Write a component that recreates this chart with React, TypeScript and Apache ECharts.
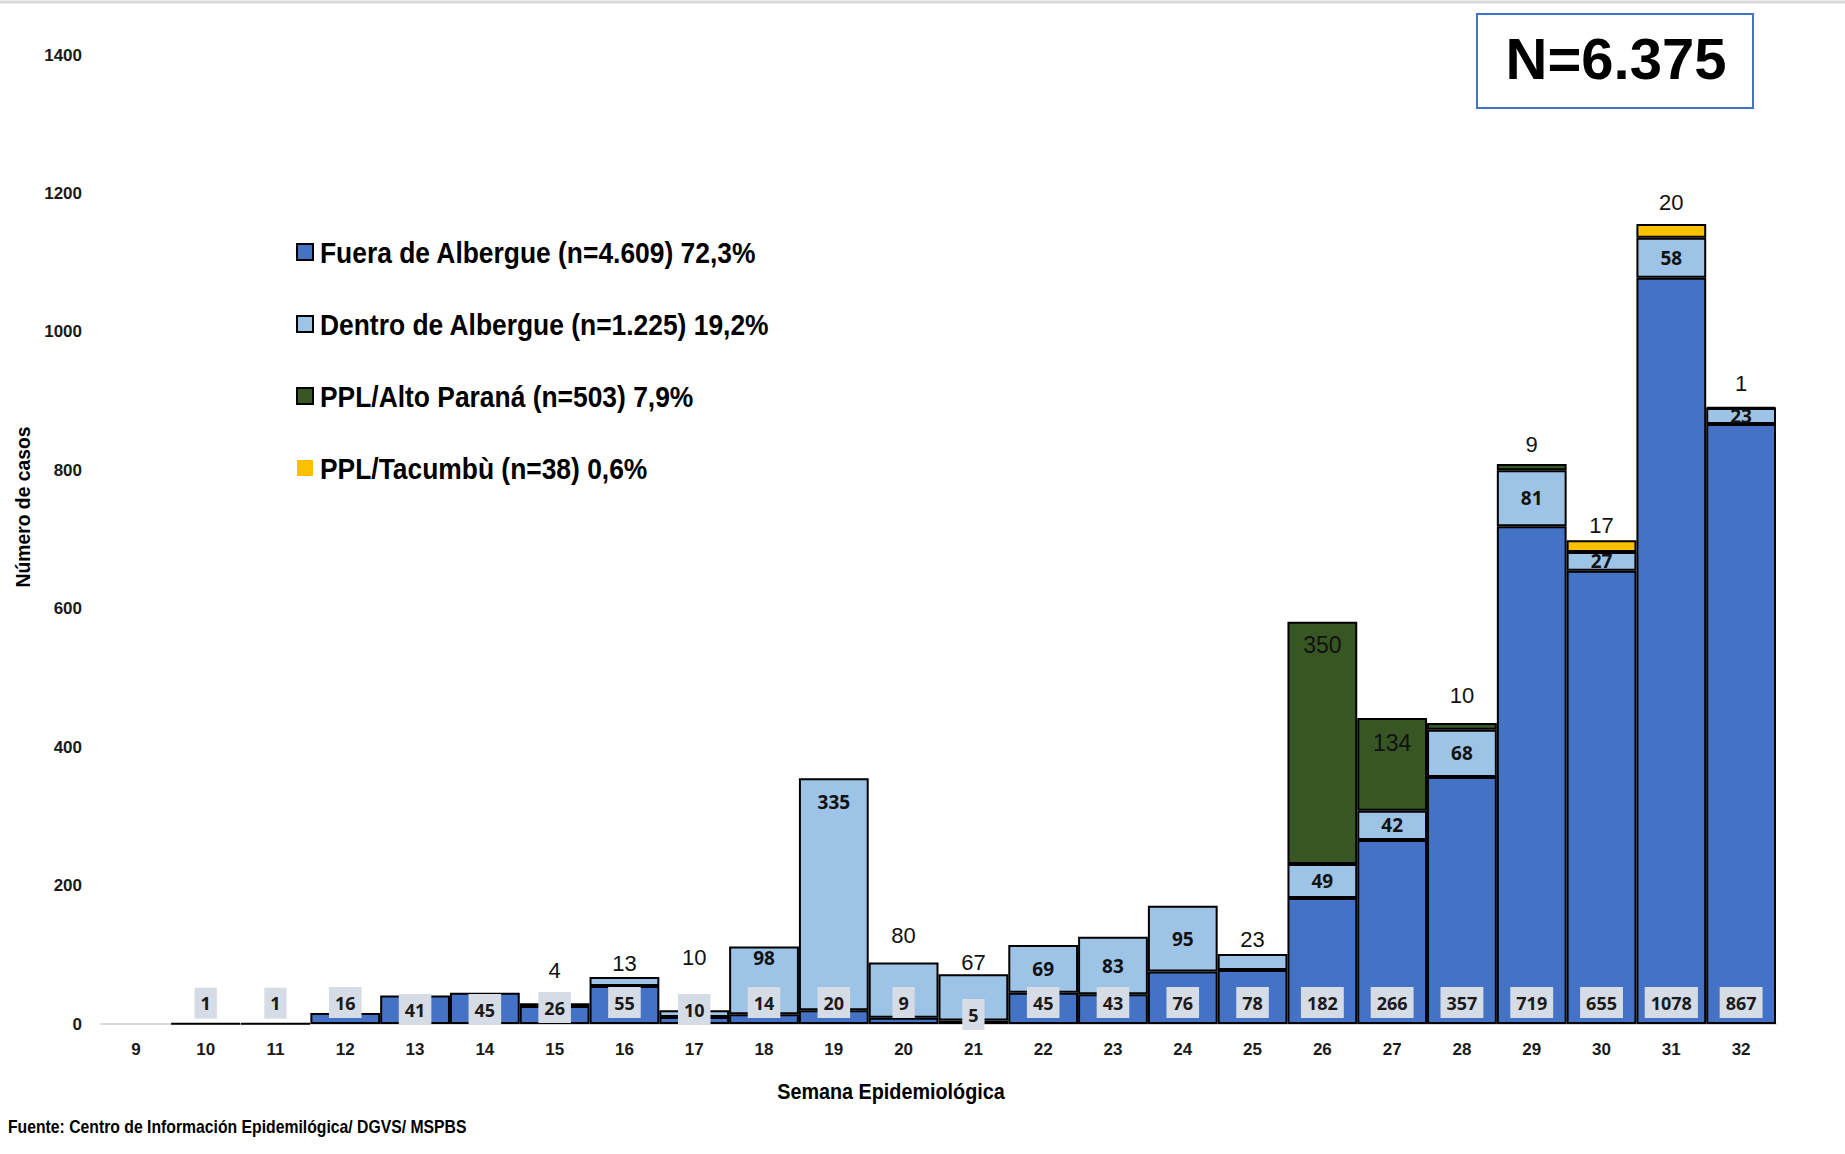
import React, { useEffect, useRef } from "react";
import * as echarts from "echarts";

const weeks = ["9","10","11","12","13","14","15","16","17","18","19","20","21","22","23","24","25","26","27","28","29","30","31","32"];
const fuera = [null,1,1,16,41,45,26,55,10,14,20,9,5,45,43,76,78,182,266,357,719,655,1078,867];
const dentro = [null,null,null,null,null,null,4,13,10,98,335,80,67,69,83,95,23,49,42,68,81,27,58,23];
const altoParana = [null,null,null,null,null,null,null,null,null,null,null,null,null,null,null,null,null,350,134,10,9,null,null,null];
const tacumbu = [null,null,null,null,null,null,null,null,null,null,null,null,null,null,null,null,null,null,null,null,null,17,20,1];
const seriesNames = [
  "Fuera de Albergue (n=4.609) 72,3%",
  "Dentro de Albergue (n=1.225) 19,2%",
  "PPL/Alto Paraná (n=503) 7,9%",
  "PPL/Tacumbù (n=38) 0,6%",
];
const yTicks = [0, 200, 400, 600, 800, 1000, 1200, 1400];
const totalLabel = "N=6.375";
const yAxisTitle = "Número de casos";
const xAxisTitle = "Semana Epidemiológica";
const sourceNote = "Fuente: Centro de Información Epidemilógica/ DGVS/ MSPBS";

const ARIAL = "'Liberation Sans', Arial, sans-serif";
const CAL = "'Noto Sans', 'Open Sans', sans-serif";
const COLORS = ["#4472c4", "#9dc3e6", "#375623", "#ffc000"];

const outerLabel = (distance: number) => ({
  show: true,
  position: "top",
  distance,
  fontFamily: ARIAL,
  fontSize: 22,
  lineHeight: 24,
  color: "#111",
});

export default function App() {
  const ref = useRef<HTMLDivElement>(null);
  useEffect(() => {
    if (!ref.current) return;
    const chart = echarts.init(ref.current, null, { renderer: "svg" });

    const fueraDist: Record<string, number> = { "13": -1, "14": -1, "15": 1, "17": -1, "21": -6 };
    const fueraData = fuera.map((v, i) => ({
      value: v,
      label: {
        show: v != null,
        position: "insideBottom",
        distance: weeks[i] in fueraDist ? fueraDist[weeks[i]] : 6,
        backgroundColor: "#d6dce5",
        padding: [6, 6, 6, 6],
        lineHeight: 19,
        fontFamily: CAL,
        fontWeight: "bold",
        fontSize: 18,
        color: "#1a1a1a",
      },
    }));

    const dentroOuter: Record<string, number> = { "15": 21, "16": 1, "17": 41, "20": 15, "21": 0, "25": 3 };
    const dentroTop: Record<string, number> = { "18": 2, "19": 14 };
    const insideStyle = { fontFamily: CAL, fontWeight: "bold", fontSize: 19, color: "#111" };
    const dentroData = dentro.map((v, i) => {
      const w = weeks[i];
      let label: any;
      if (v == null) label = { show: false };
      else if (w in dentroOuter) label = outerLabel(dentroOuter[w]);
      else if (w in dentroTop) label = { show: true, position: "insideTop", distance: dentroTop[w], ...insideStyle };
      else label = { show: true, position: "inside", ...insideStyle };
      return { value: v, label };
    });

    const altoInside: Record<string, number> = { "26": 12, "27": 13 };
    const altoOuter: Record<string, number> = { "28": 15, "29": 8 };
    const altoData = altoParana.map((v, i) => {
      const w = weeks[i];
      let label: any;
      if (v == null) label = { show: false };
      else if (w in altoInside)
        label = { show: true, position: "insideTop", distance: altoInside[w], fontFamily: ARIAL, fontSize: 23, color: "#111" };
      else label = outerLabel(altoOuter[w] ?? 8);
      return { value: v, label };
    });

    const tacOuter: Record<string, number> = { "30": 3, "31": 9, "32": 11 };
    const tacData = tacumbu.map((v, i) => ({
      value: v,
      label: v == null ? { show: false } : outerLabel(tacOuter[weeks[i]] ?? 8),
    }));

    const mk = (name: string, color: string, data: any[]) => ({
      name,
      type: "bar",
      stack: "total",
      barCategoryGap: "0%",
      data,
      itemStyle: { color, borderColor: "#000", borderWidth: 2 },
      emphasis: { disabled: true },
    });

    const legendRowsY = [252, 324, 396, 468];
    const legendGraphics: any[] = [];
    seriesNames.forEach((name, i) => {
      const y = legendRowsY[i];
      legendGraphics.push({
        type: "rect",
        shape: { x: 297, y: y - 8, width: 16, height: 16 },
        style: i < 3 ? { fill: COLORS[i], stroke: "#000", lineWidth: 2 } : { fill: COLORS[i] },
      });
      legendGraphics.push({
        type: "text",
        x: 320,
        y,
        scaleX: 0.88,
        style: { text: name, fontFamily: ARIAL, fontWeight: "bold", fontSize: 30, fill: "#000", align: "left", verticalAlign: "middle" },
      });
    });

    const option: any = {
      animation: false,
      grid: { left: 101, right: 69, top: 55, bottom: 130, containLabel: false },
      xAxis: {
        type: "category",
        data: weeks,
        axisLine: { show: true, lineStyle: { color: "#d9d9d9", width: 2 } },
        axisTick: { show: false },
        axisLabel: { margin: 17, fontFamily: ARIAL, fontWeight: "bold", fontSize: 17, color: "#1a1a1a" },
      },
      yAxis: {
        type: "value",
        min: yTicks[0],
        max: yTicks[yTicks.length - 1],
        interval: 200,
        splitLine: { show: false },
        axisLine: { show: false },
        axisTick: { show: false },
        axisLabel: { margin: 19, fontFamily: ARIAL, fontWeight: "bold", fontSize: 17, color: "#1a1a1a", formatter: (v: number) => String(v) },
      },
      series: [
        mk(seriesNames[0], COLORS[0], fueraData),
        mk(seriesNames[1], COLORS[1], dentroData),
        mk(seriesNames[2], COLORS[2], altoData),
        mk(seriesNames[3], COLORS[3], tacData),
      ],
      graphic: [
        { type: "line", shape: { x1: 0, y1: 2, x2: 1845, y2: 2 }, style: { stroke: "#d9d9d9", lineWidth: 3 } },
        { type: "rect", shape: { x: 1477, y: 14, width: 276, height: 94 }, style: { fill: "#fff", stroke: "#4472c4", lineWidth: 2 } },
        {
          type: "text",
          x: 1616,
          y: 58,
          style: { text: totalLabel, fontFamily: ARIAL, fontWeight: "bold", fontSize: 58, fill: "#000", align: "center", verticalAlign: "middle" },
        },
        {
          type: "text",
          x: 23,
          y: 507,
          rotation: Math.PI / 2,
          scaleX: 0.92,
          style: { text: yAxisTitle, fontFamily: ARIAL, fontWeight: "bold", fontSize: 21, fill: "#000", align: "center", verticalAlign: "middle" },
        },
        {
          type: "text",
          x: 891,
          y: 1091,
          scaleX: 0.9,
          style: { text: xAxisTitle, fontFamily: ARIAL, fontWeight: "bold", fontSize: 22, fill: "#000", align: "center", verticalAlign: "middle" },
        },
        {
          type: "text",
          x: 8,
          y: 1127,
          scaleX: 0.875,
          style: { text: sourceNote, fontFamily: ARIAL, fontWeight: "bold", fontSize: 18, fill: "#000", align: "left", verticalAlign: "middle" },
        },
        ...legendGraphics,
      ],
    };
    chart.setOption(option);
    return () => chart.dispose();
  }, []);
  return <div ref={ref} style={{ position: "absolute", left: 0, top: 0, width: 1845, height: 1154 }} />;
}
